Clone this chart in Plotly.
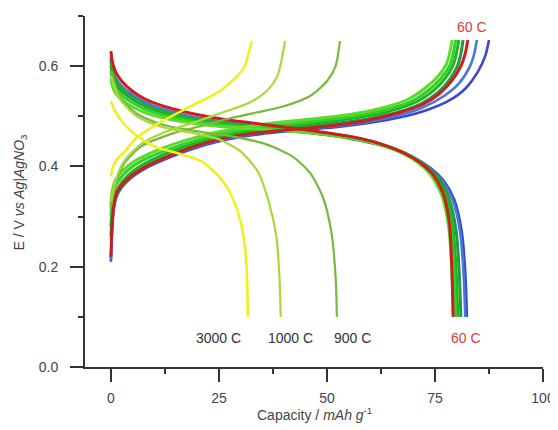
import plotly.graph_objects as go

# ---------------- data (capacity in mAh/g, potential in V) ----------------
# cluster of low-rate curves (60 C family)
chg_blueA_cap = [0, 0.2, 0.6, 1.5, 4, 8, 12, 18, 26, 35, 45, 52, 60, 67, 73, 78, 82, 85, 86.7, 87.5]
chg_blueA_v = [0.21, 0.26, 0.31, 0.345, 0.372, 0.396, 0.412, 0.432, 0.452, 0.465, 0.473, 0.478, 0.487, 0.498, 0.512, 0.53, 0.555, 0.59, 0.622, 0.652]
dis_blueA_cap = [0, 0.3, 1, 2.5, 5, 8, 13, 19, 26, 35, 45, 55, 63, 70, 74, 77, 79.5, 81.2, 82, 82.4]
dis_blueA_v = [0.615, 0.595, 0.575, 0.557, 0.54, 0.525, 0.509, 0.496, 0.486, 0.477, 0.468, 0.456, 0.441, 0.418, 0.397, 0.372, 0.333, 0.27, 0.19, 0.1]

chg_blueB_cap = [0, 0.2, 0.6, 1.5, 4, 8, 12, 18, 26, 35, 45, 52, 60, 67, 72, 77, 80.5, 83, 84.1, 84.7]
chg_blueB_v = [0.215, 0.265, 0.315, 0.348, 0.374, 0.398, 0.414, 0.434, 0.454, 0.467, 0.475, 0.48, 0.49, 0.503, 0.517, 0.54, 0.565, 0.598, 0.625, 0.652]
dis_blueB_cap = [0, 0.3, 1, 2.5, 5, 8, 13, 19, 26, 35, 45, 55, 63, 69.5, 73.5, 76.6, 79.1, 80.8, 81.6, 82]
dis_blueB_v = [0.618, 0.598, 0.578, 0.56, 0.543, 0.528, 0.512, 0.499, 0.489, 0.479, 0.47, 0.458, 0.443, 0.42, 0.398, 0.373, 0.333, 0.27, 0.19, 0.1]

chg_dkgreen_cap = [0, 0.3, 1, 2.5, 5, 9, 14, 20, 28, 37, 47, 55, 62, 68, 72, 75.5, 78.3, 80.2, 81, 81.5]
chg_dkgreen_v = [0.26, 0.3, 0.335, 0.36, 0.383, 0.405, 0.424, 0.443, 0.46, 0.472, 0.481, 0.489, 0.499, 0.512, 0.526, 0.546, 0.572, 0.6, 0.625, 0.652]
dis_dkgreen_cap = [0, 0.3, 1, 2.5, 5, 8, 13, 19, 26, 35, 45, 55, 62, 68.5, 72.8, 75.8, 78.2, 79.9, 80.6, 81]
dis_dkgreen_v = [0.6, 0.585, 0.567, 0.55, 0.534, 0.52, 0.505, 0.493, 0.484, 0.476, 0.468, 0.457, 0.444, 0.424, 0.402, 0.377, 0.337, 0.272, 0.19, 0.1]

chg_green_cap = [0, 0.3, 1, 2.5, 5, 9, 14, 20, 28, 37, 47, 55, 62, 67, 71, 74.5, 77.3, 79.2, 80, 80.5]
chg_green_v = [0.28, 0.315, 0.345, 0.368, 0.39, 0.411, 0.43, 0.448, 0.465, 0.477, 0.486, 0.495, 0.505, 0.517, 0.53, 0.55, 0.575, 0.602, 0.627, 0.652]
dis_green_cap = [0, 0.3, 1, 2.5, 5, 8, 13, 19, 26, 35, 45, 55, 62, 68, 72, 75, 77.5, 79.2, 79.9, 80.3]
dis_green_v = [0.61, 0.592, 0.572, 0.554, 0.537, 0.522, 0.507, 0.495, 0.486, 0.478, 0.47, 0.459, 0.446, 0.427, 0.406, 0.381, 0.342, 0.275, 0.19, 0.1]

chg_brgreen_cap = [0, 0.3, 1, 2.5, 5, 9, 14, 20, 28, 37, 47, 55, 61, 66, 70, 73.5, 76.5, 78.5, 79.3, 79.8]
chg_brgreen_v = [0.3, 0.332, 0.36, 0.38, 0.4, 0.419, 0.436, 0.453, 0.469, 0.481, 0.49, 0.499, 0.508, 0.519, 0.532, 0.552, 0.577, 0.603, 0.628, 0.652]
dis_brgreen_cap = [0, 0.3, 1, 2.5, 5, 8, 13, 19, 26, 35, 45, 55, 61.5, 67.5, 71.5, 74.5, 77, 78.7, 79.4, 79.8]
dis_brgreen_v = [0.59, 0.575, 0.558, 0.542, 0.527, 0.514, 0.5, 0.49, 0.482, 0.476, 0.47, 0.46, 0.447, 0.428, 0.407, 0.382, 0.343, 0.276, 0.19, 0.1]

chg_lime_cap = [0, 0.3, 1, 2.5, 5, 9, 14, 20, 28, 37, 47, 54, 60, 65, 69, 72.5, 75.7, 77.7, 78.5, 79]
chg_lime_v = [0.32, 0.35, 0.372, 0.39, 0.408, 0.426, 0.443, 0.459, 0.474, 0.486, 0.495, 0.502, 0.511, 0.522, 0.535, 0.555, 0.58, 0.605, 0.63, 0.652]
dis_lime_cap = [0, 0.3, 1, 2.5, 5, 8, 13, 19, 26, 35, 45, 54, 61, 67, 71, 74, 76.5, 78.2, 78.9, 79.3]
dis_lime_v = [0.575, 0.562, 0.547, 0.533, 0.519, 0.507, 0.495, 0.486, 0.479, 0.474, 0.468, 0.458, 0.446, 0.428, 0.408, 0.383, 0.344, 0.277, 0.19, 0.1]

# 60 C (red)
chg_60_cap = [0, 0.2, 0.6, 1.5, 4, 8, 12, 18, 26, 35, 45, 52, 60, 67, 72, 76, 79, 81, 82, 82.6]
chg_60_v = [0.22, 0.27, 0.32, 0.35, 0.376, 0.399, 0.415, 0.436, 0.456, 0.468, 0.476, 0.482, 0.493, 0.508, 0.523, 0.545, 0.572, 0.6, 0.625, 0.652]
dis_60_cap = [0, 0.3, 1, 2.5, 5, 8, 13, 19, 26, 35, 45, 55, 62, 67.5, 71.5, 74.5, 76.8, 78.3, 78.9, 79.2]
dis_60_v = [0.63, 0.61, 0.59, 0.57, 0.55, 0.534, 0.518, 0.505, 0.494, 0.484, 0.473, 0.46, 0.446, 0.428, 0.408, 0.384, 0.348, 0.29, 0.2, 0.1]

# 900 C
chg_900_cap = [0, 1, 3, 7, 14, 22, 28, 34, 40, 46, 50, 52, 53]
chg_900_v = [0.32, 0.36, 0.405, 0.44, 0.465, 0.483, 0.497, 0.508, 0.52, 0.54, 0.57, 0.6, 0.65]
dis_900_cap = [0, 2, 6, 12, 20, 28, 36, 42, 46, 49, 51, 52, 52.3]
dis_900_v = [0.59, 0.54, 0.505, 0.483, 0.47, 0.46, 0.444, 0.42, 0.388, 0.34, 0.27, 0.18, 0.1]

# 1000 C
chg_1000_cap = [0, 1, 3, 7, 13, 20, 26, 32, 36, 38.5, 40.3]
chg_1000_v = [0.33, 0.37, 0.41, 0.445, 0.47, 0.49, 0.508, 0.527, 0.55, 0.58, 0.65]
dis_1000_cap = [0, 2, 6, 12, 20, 25, 30, 34, 36.5, 38.3, 39, 39.3]
dis_1000_v = [0.58, 0.535, 0.5, 0.478, 0.465, 0.454, 0.43, 0.39, 0.33, 0.26, 0.18, 0.1]

# 3000 C
chg_3000_cap = [0, 0.5, 1.5, 3.2, 6.3, 11.8, 19.4, 25.5, 30.6, 32.6]
chg_3000_v = [0.38, 0.4, 0.415, 0.43, 0.46, 0.49, 0.524, 0.552, 0.594, 0.65]
dis_3000_cap = [0, 1, 2.5, 5, 10, 16, 21, 25, 28, 30, 31, 31.5, 31.7]
dis_3000_v = [0.53, 0.51, 0.49, 0.468, 0.44, 0.425, 0.41, 0.38, 0.34, 0.29, 0.24, 0.18, 0.1]

x_ticks = [0, 25, 50, 75, 100]
y_ticks = [0.0, 0.2, 0.4, 0.6]

rate_labels = ["3000 C", "1000 C", "900 C", "60 C", "60 C"]
label_cap = [24.8, 41.6, 56.0, 82.2, 83.6]
label_v = [0.058, 0.058, 0.058, 0.058, 0.678]
label_colors = ["#333333", "#333333", "#333333", "#e03a3a", "#e03a3a"]

# ---------------- figure ----------------
fig = go.Figure()

curves = [
    ("blue A", chg_blueA_cap, chg_blueA_v, dis_blueA_cap, dis_blueA_v, "#3a48d0", 2.6),
    ("blue B", chg_blueB_cap, chg_blueB_v, dis_blueB_cap, dis_blueB_v, "#4a78d8", 2.6),
    ("dark green", chg_dkgreen_cap, chg_dkgreen_v, dis_dkgreen_cap, dis_dkgreen_v, "#239a45", 3),
    ("green", chg_green_cap, chg_green_v, dis_green_cap, dis_green_v, "#1fb51f", 3),
    ("bright green", chg_brgreen_cap, chg_brgreen_v, dis_brgreen_cap, dis_brgreen_v, "#30d030", 3),
    ("lime", chg_lime_cap, chg_lime_v, dis_lime_cap, dis_lime_v, "#5cdc28", 3),
    ("60 C", chg_60_cap, chg_60_v, dis_60_cap, dis_60_v, "#cc1e1e", 3),
    ("900 C", chg_900_cap, chg_900_v, dis_900_cap, dis_900_v, "#7ab83c", 2.2),
    ("1000 C", chg_1000_cap, chg_1000_v, dis_1000_cap, dis_1000_v, "#a8d83a", 2.2),
    ("3000 C", chg_3000_cap, chg_3000_v, dis_3000_cap, dis_3000_v, "#f0f020", 2.6),
]

for name, cc, cv, dc, dv, col, w in curves:
    for xs, ys, kind in ((cc, cv, "charge"), (dc, dv, "discharge")):
        fig.add_trace(go.Scatter(
            x=xs, y=ys, mode="lines", name=f"{name} {kind}",
            line=dict(color=col, width=w, shape="spline", smoothing=0.7),
            showlegend=False, hoverinfo="skip",
        ))

FONT = "Liberation Sans, Arial, sans-serif"

for t, xc, yv, col in zip(rate_labels, label_cap, label_v, label_colors):
    fig.add_annotation(x=xc, y=yv, xref="x", yref="y", text=t, showarrow=False,
                       font=dict(size=14, color=col, family=FONT))

axis_font = dict(size=14, color="#444444", family=FONT)

fig.update_xaxes(
    range=[-6, 100], tickvals=x_ticks, ticks="outside", ticklen=13, tickwidth=1.8,
    tickcolor="#333333", showline=True, linecolor="#333333", linewidth=2,
    showgrid=False, zeroline=False, tickfont=axis_font, ticklabelstandoff=4,
    minor=dict(dtick=12.5, tick0=12.5, ticks="outside", ticklen=5, tickwidth=1.8, tickcolor="#333333", showgrid=False),
)
fig.update_yaxes(
    range=[0, 0.70], tickvals=y_ticks, tickformat=".1f", ticks="outside", ticklen=13, tickwidth=1.8,
    tickcolor="#333333", showline=True, linecolor="#333333", linewidth=2,
    showgrid=False, zeroline=False, tickfont=axis_font, ticklabelstandoff=9,
    minor=dict(dtick=0.1, tick0=0.1, ticks="outside", ticklen=5, tickwidth=1.8, tickcolor="#333333", showgrid=False),
)

fig.add_annotation(xref="paper", yref="paper", x=0.5, y=-0.135, yanchor="middle",
                   text="Capacity / <i>mAh g</i><sup>-1</sup>", showarrow=False,
                   font=dict(size=14, color="#444444", family=FONT))
fig.add_annotation(xref="paper", yref="paper", x=-0.142, y=0.5, xanchor="center",
                   text="E / V <i>vs Ag|AgNO</i><sub>3</sub>", textangle=-90, showarrow=False,
                   font=dict(size=14, color="#444444", family=FONT))

fig.update_layout(
    width=558, height=430,
    margin=dict(l=77, r=23, t=8, b=71),
    paper_bgcolor="white", plot_bgcolor="white",
)

fig.write_html("out.html")
